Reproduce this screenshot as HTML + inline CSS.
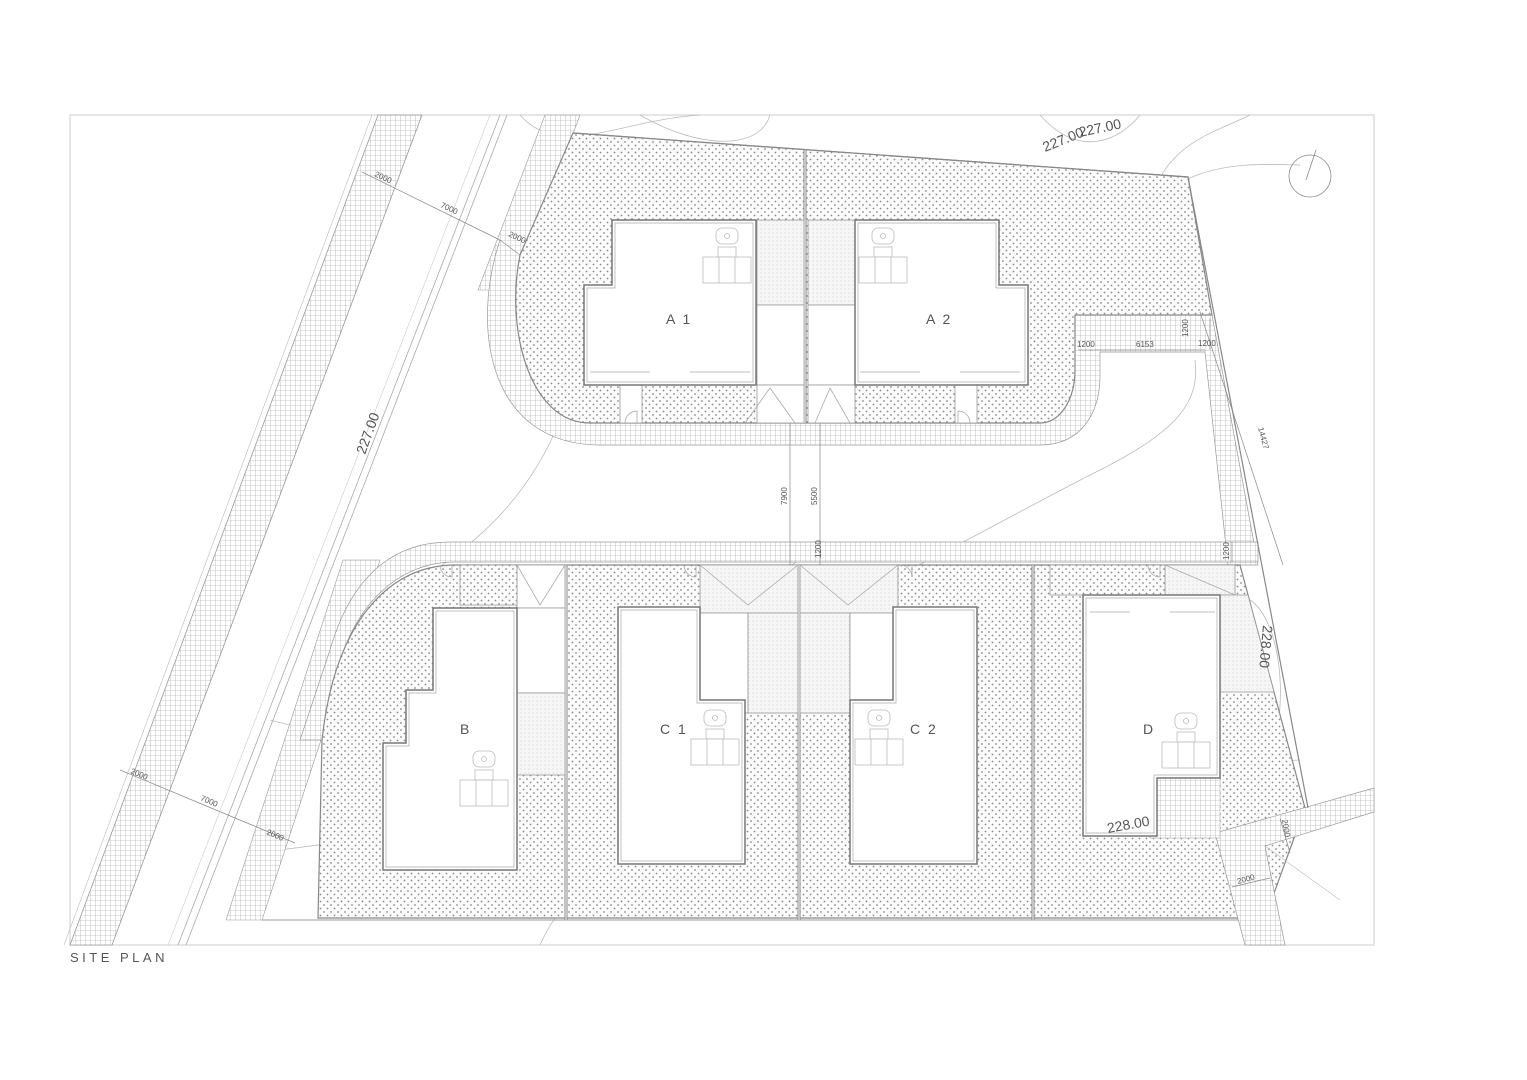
<!DOCTYPE html>
<html><head><meta charset="utf-8"><style>
html,body{margin:0;padding:0;background:#fff;}
svg{display:block;}
text{font-family:"Liberation Sans",sans-serif;fill:#555;}
</style></head><body>
<svg width="1527" height="1080" viewBox="0 0 1527 1080" xmlns="http://www.w3.org/2000/svg">
<defs>
<pattern id="dots" width="7" height="7" patternUnits="userSpaceOnUse">
<rect width="7" height="7" fill="#fbfbfb"/><circle cx="2" cy="2" r="0.9" fill="#8a8a8a"/><circle cx="5.5" cy="5.5" r="0.9" fill="#8a8a8a"/></pattern>
<pattern id="grid" width="5" height="5" patternUnits="userSpaceOnUse">
<rect width="5" height="5" fill="#fff"/><path d="M0 0H5M0 0V5" stroke="#9a9a9a" stroke-width="0.6"/></pattern>
<pattern id="fine" width="4" height="4" patternUnits="userSpaceOnUse">
<rect width="4" height="4" fill="#f6f6f6"/><circle cx="1" cy="1" r="0.5" fill="#c4c4c4"/></pattern>
</defs>
<rect x="0" y="0" width="1527" height="1080" fill="#fff"/>
<rect x="70" y="115" width="1304" height="830" fill="none" stroke="#ccc" stroke-width="1"/>

<polygon points="378,115 422,115 112,945 70,945" fill="url(#grid)" stroke="#999" stroke-width="0.8"/>
<line x1="372" y1="115" x2="64" y2="945" stroke="#bbb" stroke-width="0.6"/>
<line x1="500" y1="115" x2="178" y2="945" stroke="#aaa" stroke-width="0.8"/>
<line x1="507" y1="115" x2="186" y2="945" stroke="#aaa" stroke-width="0.8"/>
<line x1="490" y1="115" x2="168" y2="945" stroke="#ccc" stroke-width="0.6"/>

<g fill="none" stroke="#bbb" stroke-width="0.8">
<path d="M520,115 C560,160 620,120 700,115"/>
<path d="M640,115 C700,150 760,150 770,115"/>
<path d="M1040,115 C1080,160 1120,140 1140,115"/>
<path d="M1160,178 C1180,140 1220,130 1250,115"/>
<path d="M1190,178 C1230,160 1280,165 1300,165"/>
<path d="M1190,178 C1150,230 1200,300 1160,310"/>
<path d="M390,600 C450,560 520,520 560,420"/>
<path d="M330,700 C500,700 600,690 700,660 C850,610 1000,520 1100,470 C1180,430 1200,400 1195,360"/>
<path d="M270,720 C420,760 600,780 790,800 C900,780 1100,770 1300,760"/>
<path d="M280,850 C500,820 700,820 900,840 C1050,830 1200,800 1270,760 C1290,700 1280,620 1250,600"/>
<path d="M430,600 C500,640 560,660 650,640 C720,620 780,570 800,560"/>
<path d="M540,945 C560,900 590,880 620,860"/>
</g>

<polygon points="545,115 580,115 515,290 478,290" fill="url(#grid)" stroke="#999" stroke-width="0.6"/>
<polygon points="343,560 380,560 262,920 226,920" fill="url(#grid)" stroke="#999" stroke-width="0.6"/>

<path d="M500,240 C470,330 490,445 600,445 L1040,445 C1080,445 1100,415 1100,375 L1100,352 L1205,352 L1228,565 L1258,565 L1212,315 L1075,315 L1075,370 C1075,400 1060,423 1040,423 L590,423 C530,423 505,330 520,255 Z" fill="url(#grid)" stroke="#999" stroke-width="0.7"/>
<path d="M573,133 L1188,177 L1212,315 L1075,315 L1075,370 C1075,400 1060,423 1040,423 L590,423 C530,423 505,330 520,255 Z" fill="url(#dots)" stroke="#888" stroke-width="1.2"/>
<line x1="805" y1="150" x2="805" y2="423" stroke="#888" stroke-width="3"/>
<line x1="805" y1="150" x2="805" y2="423" stroke="#fff" stroke-width="1"/>

<path d="M1258,542 L450,542 C390,542 350,580 330,650 L300,740 L322,740 L335,680 C350,610 395,562 455,562 L1258,562 Z" fill="url(#grid)" stroke="#999" stroke-width="0.7"/>
<path d="M455,565 L1240,565 L1305,808 L1265,918 L318,918 L322,740 C335,620 390,565 455,565 Z" fill="url(#dots)" stroke="#888" stroke-width="1.2"/>
<line x1="262" y1="920" x2="1262" y2="920" stroke="#999" stroke-width="1"/>
<g stroke="#888" stroke-width="3"><line x1="566" y1="565" x2="566" y2="920"/><line x1="799" y1="565" x2="799" y2="920"/><line x1="1033" y1="565" x2="1033" y2="920"/></g>
<g stroke="#fff" stroke-width="1"><line x1="566" y1="565" x2="566" y2="920"/><line x1="799" y1="565" x2="799" y2="920"/><line x1="1033" y1="565" x2="1033" y2="920"/></g>

<polygon points="1215,833 1374,788 1374,812 1265,846 1285,945 1245,945" fill="url(#grid)" stroke="#999" stroke-width="0.7"/>
<line x1="1265" y1="846" x2="1340" y2="900" stroke="#bbb" stroke-width="0.6"/>

<g stroke="#999" stroke-width="0.8">
<rect x="757" y="220" width="47" height="85" fill="url(#fine)"/>
<rect x="808" y="220" width="47" height="85" fill="url(#fine)"/>
<rect x="757" y="305" width="47" height="80" fill="#fff"/>
<rect x="808" y="305" width="47" height="80" fill="#fff"/>
<rect x="757" y="385" width="47" height="38" fill="#fff"/>
<rect x="808" y="385" width="47" height="38" fill="#fff"/>
<rect x="620" y="385" width="22" height="38" fill="#fff"/>
<rect x="955" y="385" width="22" height="38" fill="#fff"/>
</g>
<g fill="none" stroke="#aaa" stroke-width="0.8">
<path d="M745,423 L770,388 L795,423"/><path d="M815,423 L830,388 L850,423"/>
<path d="M625,423 A12,12 0 0 1 637,411 V423"/><path d="M970,423 A12,12 0 0 0 958,411 V423"/>
</g>

<g stroke="#999" stroke-width="0.8">
<rect x="517" y="565" width="48" height="43" fill="#fff"/>
<rect x="517" y="608" width="48" height="85" fill="#fff"/>
<rect x="517" y="693" width="48" height="82" fill="url(#fine)"/>
<rect x="700" y="565" width="98" height="48" fill="url(#fine)"/>
<rect x="800" y="565" width="98" height="48" fill="url(#fine)"/>
<rect x="700" y="613" width="48" height="100" fill="#fff"/>
<rect x="748" y="613" width="50" height="100" fill="url(#fine)"/>
<rect x="800" y="613" width="50" height="100" fill="url(#fine)"/>
<rect x="850" y="613" width="43" height="100" fill="#fff"/>
<rect x="1165" y="565" width="70" height="30" fill="url(#fine)"/>
<polygon points="1220,595 1248,595 1274,692 1220,692" fill="url(#fine)"/>
<rect x="460" y="565" width="57" height="40" fill="url(#dots)"/>
<rect x="1050" y="565" width="115" height="30" fill="url(#dots)"/>
</g>
<line x1="1188" y1="177" x2="1308" y2="808" stroke="#888" stroke-width="1.2"/>
<line x1="573" y1="133" x2="1188" y2="177" stroke="#888" stroke-width="1.2"/>
<g fill="none" stroke="#aaa" stroke-width="0.8">
<path d="M517,565 L540,605 L565,565"/><path d="M700,565 L748,605 L798,565"/><path d="M800,565 L848,605 L898,565"/><path d="M1165,565 L1235,595"/>
<path d="M440,565 A12,12 0 0 0 452,577 V565"/><path d="M684,565 A12,12 0 0 0 696,577 V565"/><path d="M900,565 A12,12 0 0 1 912,577 V565"/><path d="M1148,565 A12,12 0 0 0 1160,577 V565"/>
</g>
<rect x="1150" y="778" width="70" height="60" fill="url(#grid)" stroke="#aaa" stroke-width="0.6"/>

<g fill="#fff" stroke="#777" stroke-width="1.5">
<path d="M612,220 L756,220 L756,385 L584,385 L584,285 L612,285 Z"/>
<path d="M855,220 L999,220 L999,285 L1028,285 L1028,385 L855,385 Z"/>
<path d="M433,608 L517,608 L517,870 L383,870 L383,743 L406,743 L406,690 L433,690 Z"/>
<path d="M618,607 L700,607 L700,700 L745,700 L745,864 L618,864 Z"/>
<path d="M893,607 L977,607 L977,864 L850,864 L850,700 L893,700 Z"/>
<path d="M1083,595 L1220,595 L1220,778 L1157,778 L1157,836 L1083,836 Z"/>
</g>
<g fill="none" stroke="#aaa" stroke-width="0.7">
<path d="M615,223 L753,223 L753,382 L587,382 L587,288 L615,288 Z"/>
<path d="M858,223 L996,223 L996,288 L1025,288 L1025,382 L858,382 Z"/>
<path d="M436,611 L514,611 L514,867 L386,867 L386,746 L409,746 L409,693 L436,693 Z"/>
<path d="M621,610 L697,610 L697,703 L742,703 L742,861 L621,861 Z"/>
<path d="M896,610 L974,610 L974,861 L853,861 L853,703 L896,703 Z"/>
<path d="M1086,598 L1217,598 L1217,775 L1154,775 L1154,833 L1086,833 Z"/>
<path d="M590,372 L650,372 M690,372 L750,372 M860,372 L920,372 M960,372 L1020,372 M1090,612 L1130,612 M1170,612 L1215,612"/>
</g>

<g fill="#fff" stroke="#bbb" stroke-width="0.8">
<g transform="translate(727,237)"><rect x="-11" y="-9" width="22" height="16" rx="6"/><circle cx="0" cy="-1" r="2.5"/><rect x="-9" y="10" width="18" height="10"/><rect x="-24" y="20" width="48" height="26"/><line x1="-8" y1="20" x2="-8" y2="46"/><line x1="8" y1="20" x2="8" y2="46"/></g>
<g transform="translate(883,237)"><rect x="-11" y="-9" width="22" height="16" rx="6"/><circle cx="0" cy="-1" r="2.5"/><rect x="-9" y="10" width="18" height="10"/><rect x="-24" y="20" width="48" height="26"/><line x1="-8" y1="20" x2="-8" y2="46"/><line x1="8" y1="20" x2="8" y2="46"/></g>
<g transform="translate(484,760)"><rect x="-11" y="-9" width="22" height="16" rx="6"/><circle cx="0" cy="-1" r="2.5"/><rect x="-9" y="10" width="18" height="10"/><rect x="-24" y="20" width="48" height="26"/><line x1="-8" y1="20" x2="-8" y2="46"/><line x1="8" y1="20" x2="8" y2="46"/></g>
<g transform="translate(715,719)"><rect x="-11" y="-9" width="22" height="16" rx="6"/><circle cx="0" cy="-1" r="2.5"/><rect x="-9" y="10" width="18" height="10"/><rect x="-24" y="20" width="48" height="26"/><line x1="-8" y1="20" x2="-8" y2="46"/><line x1="8" y1="20" x2="8" y2="46"/></g>
<g transform="translate(879,719)"><rect x="-11" y="-9" width="22" height="16" rx="6"/><circle cx="0" cy="-1" r="2.5"/><rect x="-9" y="10" width="18" height="10"/><rect x="-24" y="20" width="48" height="26"/><line x1="-8" y1="20" x2="-8" y2="46"/><line x1="8" y1="20" x2="8" y2="46"/></g>
<g transform="translate(1186,722)"><rect x="-11" y="-9" width="22" height="16" rx="6"/><circle cx="0" cy="-1" r="2.5"/><rect x="-9" y="10" width="18" height="10"/><rect x="-24" y="20" width="48" height="26"/><line x1="-8" y1="20" x2="-8" y2="46"/><line x1="8" y1="20" x2="8" y2="46"/></g>
</g>

<g font-size="14" fill="#444" style="letter-spacing:2px">
<text x="666" y="324">A 1</text><text x="926" y="324">A 2</text>
<text x="460" y="734">B</text><text x="660" y="734">C 1</text><text x="910" y="734">C 2</text><text x="1143" y="734">D</text>
</g>
<text x="70" y="962" font-size="13" fill="#333" style="letter-spacing:3.5px">SITE PLAN</text>

<g stroke="#888" stroke-width="0.7" fill="none">
<line x1="362" y1="172" x2="500" y2="240"/>
<line x1="1078" y1="350" x2="1205" y2="350"/>
<line x1="1210" y1="318" x2="1210" y2="350"/>
<line x1="1200" y1="312" x2="1283" y2="565"/>
<line x1="790" y1="423" x2="790" y2="565"/>
<line x1="820" y1="423" x2="820" y2="565"/>
<line x1="1232" y1="542" x2="1232" y2="562"/>
<line x1="120" y1="770" x2="295" y2="843"/>
<line x1="1280" y1="818" x2="1290" y2="853"/>
<line x1="1232" y1="887" x2="1270" y2="878"/>
</g>
<g font-size="8" fill="#666">
<text transform="translate(374,176) rotate(25)">2000</text>
<text transform="translate(440,207) rotate(25)">7000</text>
<text transform="translate(508,236) rotate(25)">2000</text>
<text transform="translate(130,773) rotate(23)">2000</text>
<text transform="translate(200,800) rotate(23)">7000</text>
<text transform="translate(266,834) rotate(23)">2000</text>
<text x="1077" y="347">1200</text><text x="1136" y="347">6153</text><text x="1198" y="346">1200</text>
<text transform="translate(1188,337) rotate(-90)">1200</text>
<text transform="translate(1258,428) rotate(75)">14427</text>
<text transform="translate(787,505) rotate(-90)">7900</text>
<text transform="translate(817,505) rotate(-90)">5500</text>
<text transform="translate(821,558) rotate(-90)">1200</text>
<text transform="translate(1229,560) rotate(-90)">1200</text>
<text transform="translate(1282,820) rotate(80)">2000</text>
<text transform="translate(1238,884) rotate(-15)">2000</text>
</g>
<g font-size="14" fill="#c4c4c4">
<text transform="translate(365,455) rotate(-70)">227.00</text>
<text transform="translate(1045,152) rotate(-22)">227.00</text>
<text transform="translate(1080,137) rotate(-12)">227.00</text>
<text transform="translate(1108,833) rotate(-10)">228.00</text>
<text transform="translate(1263,625) rotate(95)">228.00</text>
</g>

<circle cx="1310" cy="176" r="21" fill="none" stroke="#888" stroke-width="0.8"/>
<line x1="1316" y1="150" x2="1306" y2="180" stroke="#888" stroke-width="0.8"/>
</svg>
</body></html>
